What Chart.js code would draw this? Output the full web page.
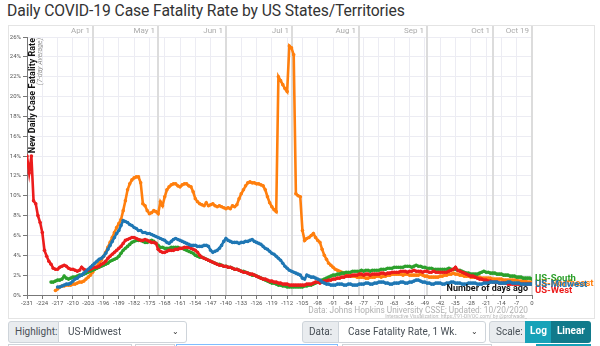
<!DOCTYPE html>
<html><head><meta charset="utf-8">
<script src="https://cdn.jsdelivr.net/npm/chart.js@4.4.0/dist/chart.umd.min.js"></script>
<style>
html,body{margin:0;padding:0;background:#fff;}
body{width:600px;height:346px;position:relative;overflow:hidden;font-family:Roboto,"Open Sans",sans-serif;}
#title{position:absolute;left:7px;top:1px;font-size:15.7px;color:#333;white-space:nowrap;letter-spacing:-0.1px;}
#frame{position:absolute;left:8px;top:25px;width:587px;height:294px;border:1px solid #e4e4e4;box-sizing:border-box;}
#c{position:absolute;left:0;top:0;}
#src1{position:absolute;right:72px;top:305px;font-size:8.3px;color:#b0b0b0;white-space:nowrap;}
#src2{position:absolute;right:73px;top:313px;font-size:5px;color:#b8b8b8;white-space:nowrap;}
.box{position:absolute;top:321px;height:22px;box-sizing:border-box;border:1px solid #ced4da;font-size:10px;line-height:20px;white-space:nowrap;}
.lab{background:#e9ecef;color:#495057;padding-left:6px;border-radius:3px 0 0 3px;}
.sel{background:#fff;color:#495057;padding-left:9px;border-radius:0 3px 3px 0;}
.chev{position:absolute;right:7px;top:0;font-size:8px;color:#333;}
.btn{color:#fff;font-weight:bold;text-align:center;border:none;}
.row2{position:absolute;top:344px;height:6px;box-sizing:border-box;border:1px solid #ced4da;}
</style></head>
<body>
<div id="title">Daily COVID-19 Case Fatality Rate by US States/Territories</div>
<div id="frame"></div>
<canvas id="c" width="600" height="320"></canvas>
<div id="src1">Data: Johns Hopkins University CSSE; Updated: 10/20/2020</div>
<div id="src2">Interactive Visualization: https://91-DIVOC.com/ by @profwade_</div>
<div class="box lab" style="left:8px;width:51px;">Highlight:</div>
<div class="box sel" style="left:58px;width:129px;">US-Midwest<span class="chev">&#8964;</span></div>
<div class="box lab" style="left:302px;width:37px;">Data:</div>
<div class="box sel" style="left:338px;width:148px;">Case Fatality Rate, 1 Wk.<span class="chev">&#8964;</span></div>
<div class="box lab" style="left:489px;width:37px;">Scale:</div>
<div class="box btn" style="left:525px;width:27px;background:#17a2b8;">Log</div>
<div class="box btn" style="left:551px;width:40px;background:#117a8b;border-radius:0 3px 3px 0;">Linear</div>
<div class="row2" style="left:8px;width:124px;"></div>
<div class="row2" style="left:135px;width:40px;"></div>
<div class="row2" style="left:176px;width:162px;border-color:#80bdff;"></div>
<div class="row2" style="left:342px;width:150px;"></div>
<div class="row2" style="left:536px;width:55px;background:#17a2b8;border:none;"></div>
<script>
// ---- data (days ago, x axis) ----
const monthLabels = ['Apr 1','May 1','Jun 1','Jul 1','Aug 1','Sep 1','Oct 1','Oct 19'];
const monthDays   = [-201, -171, -140, -110, -79, -48, -18, 0];
const yTickMax = 26;

const westName = 'US-West';
const westStart = -231;
const westValues = [
 14.0,12.3,14.0,9.5,9.2,8.0,7.3,6.3,4.5,3.9,
 3.4,3.1,2.7,2.6,2.6,2.8,2.9,3.0,2.9,2.7,
 2.6,2.6,2.5,2.4,2.5,2.8,2.6,2.5,2.5,2.6,
 2.7,2.8,2.8,2.9,3.1,3.2,3.4,3.7,3.9,4.1,
 4.3,4.5,4.7,4.9,5.2,5.5,5.6,5.7,5.8,5.8,
 5.7,5.6,5.5,5.5,5.6,5.5,5.4,5.3,5.3,5.2,
 4.6,4.4,4.3,4.3,4.4,4.5,4.5,4.5,4.6,4.6,
 4.7,4.7,4.8,4.8,4.8,4.7,4.6,4.5,4.3,4.0,
 3.8,3.7,3.6,3.5,3.4,3.3,3.2,3.1,3.0,3.0,
 2.9,2.9,2.8,2.8,2.7,2.6,2.6,2.5,2.4,2.3,
 2.3,2.2,2.1,2.1,2.0,1.9,1.8,1.7,1.6,1.6,
 1.5,1.4,1.4,1.3,1.3,1.2,1.2,1.1,1.1,1.1,
 1.0,1.0,1.0,1.0,1.0,1.0,1.0,1.0,1.1,1.1,
 1.1,1.2,1.3,1.3,1.2,1.3,1.4,1.4,1.5,1.5,
 1.6,1.6,1.7,1.7,1.8,1.8,1.9,1.9,1.9,2.0,
 2.0,2.0,2.1,2.1,2.0,2.1,2.1,2.0,2.1,2.1,
 2.1,2.1,2.2,2.2,2.1,2.2,2.2,2.3,2.3,2.3,
 2.3,2.4,2.4,2.4,2.3,2.4,2.4,2.5,2.4,2.4,
 2.4,2.3,2.4,2.4,2.3,2.3,2.4,2.3,2.3,2.3,
 2.3,2.3,2.3,2.4,2.5,2.6,2.8,2.5,2.4,2.3,
 2.2,2.1,2.0,1.9,1.9,1.8,1.7,1.6,1.6,1.5,
 1.5,1.4,1.4,1.3,1.3,1.3,1.2,1.2,1.2,1.2,
 1.1,1.1,1.1,1.1,1.1,1.1,1.1,1.1,1.1,1.1,
 1.1,1.1
];

const southName = 'US-South';
const southStart = -220;
const southValues = [
 1.3,1.3,1.4,1.5,1.5,1.6,1.9,1.7,1.6,1.7,
 1.8,1.8,1.9,2.0,2.0,2.1,2.2,2.3,2.4,2.5,
 2.6,2.7,2.8,2.9,3.0,3.1,3.2,3.4,3.5,3.6,
 3.7,3.9,4.2,4.5,4.7,4.9,5.1,5.3,5.4,5.5,
 5.5,5.5,5.4,5.3,5.3,5.4,5.5,5.4,5.2,5.0,
 4.8,4.8,4.7,4.7,4.7,4.8,4.8,4.8,4.8,4.7,
 4.7,4.6,4.5,4.4,4.3,4.2,4.0,3.9,3.8,3.8,
 3.7,3.6,3.5,3.4,3.3,3.2,3.1,3.1,3.0,2.9,
 2.9,2.8,2.8,2.7,2.6,2.6,2.5,2.4,2.4,2.3,
 2.2,2.1,2.0,2.0,1.9,1.8,1.7,1.6,1.5,1.4,
 1.3,1.2,1.2,1.1,1.0,1.0,0.9,0.9,0.8,0.8,
 0.8,0.8,0.8,0.8,0.8,0.8,0.9,0.9,1.0,1.0,
 1.1,1.2,1.3,1.4,1.5,1.6,1.7,1.8,1.9,2.0,
 2.0,2.1,2.1,2.2,2.2,2.3,2.3,2.3,2.4,2.4,
 2.4,2.4,2.5,2.4,2.5,2.5,2.4,2.5,2.5,2.5,
 2.5,2.6,2.6,2.6,2.7,2.7,2.7,2.8,2.8,2.8,
 2.8,2.8,2.9,2.9,2.9,2.8,2.9,3.0,2.9,2.9,
 2.8,2.8,2.7,2.7,2.7,2.6,2.6,2.6,2.6,2.6,
 2.6,2.6,2.7,2.6,2.6,2.6,2.5,2.5,2.4,2.3,
 2.2,2.2,2.1,2.1,2.1,2.1,2.2,2.3,2.4,2.3,
 2.3,2.2,2.2,2.2,2.1,2.1,2.1,2.0,2.0,2.0,
 1.9,1.9,1.9,1.8,1.8,1.8,1.7,1.7,1.7,1.7,
 1.6
];

const midwestName = 'US-Midwest';
const midwestStart = -217;
const midwestValues = [
 0.8,0.8,0.9,1.0,1.1,1.1,1.2,1.4,1.6,1.7,
 1.9,2.0,2.2,2.4,2.6,2.8,3.0,3.2,3.4,3.6,
 3.7,3.9,4.2,4.6,5.0,5.4,5.8,6.2,6.5,7.0,
 7.5,7.4,7.3,7.1,7.0,6.8,6.7,6.5,6.5,6.3,
 6.3,6.2,6.2,6.1,6.0,5.9,5.8,5.7,5.6,5.5,
 5.3,5.2,5.4,5.6,5.7,5.6,5.5,5.4,5.3,5.2,
 5.1,5.0,5.0,5.0,4.9,4.9,4.9,5.0,5.0,4.9,
 4.5,4.3,4.4,4.5,4.7,5.0,5.4,5.7,5.5,5.4,
 5.3,5.3,5.3,5.2,5.3,5.3,5.4,5.4,5.5,5.6,
 5.4,5.3,5.2,5.1,4.9,4.7,4.6,4.4,4.2,4.1,
 3.9,3.7,3.5,3.2,2.9,2.7,2.5,2.4,2.3,2.2,
 2.1,2.0,1.7,1.6,2.0,1.9,1.8,1.8,1.7,1.6,
 1.5,1.3,1.2,1.1,1.1,1.0,1.0,1.0,1.1,1.1,
 1.1,1.0,1.0,1.1,1.1,1.0,1.0,1.0,1.1,1.1,
 1.1,1.2,1.2,1.1,1.1,1.2,1.2,1.3,1.3,1.3,
 1.2,1.2,1.1,1.1,1.2,1.2,1.2,1.3,1.3,1.2,
 1.2,1.3,1.3,1.4,1.5,1.5,1.4,1.3,1.3,1.2,
 1.2,1.1,1.1,1.2,1.2,1.2,1.1,1.1,1.2,1.2,
 1.3,1.3,1.2,1.2,1.2,1.1,1.1,1.1,1.2,1.2,
 1.2,1.2,1.1,1.1,1.1,1.2,1.2,1.2,1.3,1.3,
 1.3,1.3,1.2,1.2,1.2,1.2,1.3,1.3,1.2,1.2,
 1.2,1.2,1.1,1.1,1.1,1.1,1.1,1.1
];

const northeastName = 'US-Northeast';
const northeastStart = -218;
const northeastValues = [
 0.45,0.6,0.8,0.9,0.9,1.0,1.0,1.0,1.1,1.1,
 1.2,1.3,1.3,1.4,1.6,1.8,2.0,2.3,2.6,2.9,
 3.2,3.5,3.9,4.3,4.8,5.3,5.8,6.3,6.8,7.2,
 7.6,8.5,9.5,10.6,11.2,11.6,11.8,11.9,11.9,11.3,
 9.2,9.0,8.5,8.2,8.3,8.5,8.4,8.2,9.4,9.0,
 9.9,10.6,10.9,11.1,11.2,11.2,11.0,10.9,11.1,11.2,
 11.2,11.0,10.9,10.4,9.7,9.4,9.2,9.1,9.0,9.3,
 9.0,9.1,9.2,9.0,8.9,9.0,8.9,8.8,8.7,8.8,
 8.7,9.0,8.9,9.1,9.7,10.2,10.6,11.0,11.3,11.4,
 11.3,11.3,11.2,11.2,11.1,11.0,10.6,9.9,9.3,8.9,
 8.6,8.4,22.0,21.6,21.2,20.8,20.5,25.1,24.9,24.2,
 10.2,10.0,9.9,6.5,5.5,5.7,5.8,6.0,6.2,5.8,
 5.5,5.3,4.6,4.0,3.6,3.2,3.0,2.8,2.6,2.5,
 2.4,2.3,2.2,2.1,2.0,2.0,1.9,1.9,1.8,1.8,
 1.8,1.8,1.7,1.7,1.8,1.8,1.8,1.9,1.9,1.8,
 1.9,1.9,2.0,2.0,2.1,2.1,2.1,2.1,2.1,2.0,
 2.1,2.1,2.0,2.0,2.0,2.0,2.0,2.1,2.0,1.9,
 1.9,1.8,1.8,1.8,1.8,1.8,1.9,1.9,2.0,2.0,
 2.1,2.1,2.2,2.1,2.1,2.0,2.0,1.9,1.9,1.9,
 1.8,1.8,1.8,1.8,1.8,1.7,1.7,1.7,1.7,1.7,
 1.6,1.6,1.6,1.6,1.6,1.5,1.5,1.5,1.5,1.5,
 1.5,1.5,1.4,1.4,1.4,1.4,1.3,1.3,1.3
];

// ---- build ----
function pts(start, vals){ return vals.map((v,i)=>({x:start+i, y:v})); }
const FONT = 'Roboto, "Open Sans", sans-serif';
function ds(name, start, vals, color, order){
  return {label:name, data:pts(start, vals), borderColor:color, backgroundColor:color,
    pointBackgroundColor:color, pointBorderColor:color, pointRadius:1.8, pointBorderWidth:0,
    borderWidth:2.6, tension:0, order:order};
}
const COLORS = {south:'#2ca02c', midwest:'#1f77b4', northeast:'#ff7f0e', west:'#ec1c1c'};

const overlay = {
  id:'overlay',
  beforeDatasetsDraw(chart){
    const {ctx, chartArea:a, scales:{x}} = chart;
    ctx.save();
    monthDays.forEach((d,i)=>{
      const px = Math.round(x.getPixelForValue(d));
      ctx.strokeStyle = '#dcdcdc'; ctx.lineWidth = 2;
      ctx.beginPath(); ctx.moveTo(px, 26); ctx.lineTo(px, a.bottom); ctx.stroke();
      ctx.fillStyle = '#ababab'; ctx.font = '8px ' + FONT;
      ctx.textAlign = 'right'; ctx.textBaseline = 'middle';
      ctx.fillText(monthLabels[i], px - 3, 31);
    });
    ctx.font = 'bold 9px ' + FONT;
    const t = 'Number of days ago';
    const w = ctx.measureText(t).width;
    ctx.fillStyle = 'rgba(255,255,255,0.9)';
    ctx.fillRect(a.right - 4 - w - 2, a.bottom - 12, w + 4, 11);
    ctx.restore();
  },
  afterDatasetsDraw(chart){
    const {ctx, chartArea:a, scales:{x, y}} = chart;
    ctx.save();
    ctx.translate(a.left + 6, a.top + 1);
    ctx.rotate(-Math.PI/2);
    ctx.textAlign = 'right'; ctx.textBaseline = 'middle';
    ctx.fillStyle = '#111'; ctx.font = 'bold 9px ' + FONT;
    ctx.fillText('New Daily Case Fatality Rate', 0, 0);
    ctx.fillStyle = '#999'; ctx.font = 'italic 7px ' + FONT;
    ctx.fillText('(7-day Average)', 0, 7.5);
    ctx.restore();
    ctx.save();
    ctx.font = 'bold 9px ' + FONT; ctx.fillStyle = '#111';
    ctx.textAlign = 'right'; ctx.textBaseline = 'middle';
    ctx.fillText('Number of days ago', a.right - 4, a.bottom - 6.5);
    const order = [3,2,1,0];
    const dy = {'US-South':0,'US-Northeast':2,'US-Midwest':1,'US-West':7};
    order.forEach(oi=>{
      chart.data.datasets.forEach(d=>{
        if (d.order !== oi) return;
        const last = d.data[d.data.length-1];
        const py = y.getPixelForValue(last.y) + dy[d.label];
        ctx.font = 'bold 9.5px ' + FONT; ctx.fillStyle = d.borderColor;
        ctx.textAlign = 'left'; ctx.textBaseline = 'middle';
        ctx.fillText(d.label, a.right + 3, py);
      });
    });
    ctx.restore();
  }
};

new Chart(document.getElementById('c'), {
  type:'line',
  data:{datasets:[
    ds(midwestName, midwestStart, midwestValues, COLORS.midwest, 0),
    ds(westName, westStart, westValues, COLORS.west, 1),
    ds(southName, southStart, southValues, COLORS.south, 2),
    ds(northeastName, northeastStart, northeastValues, COLORS.northeast, 3)
  ]},
  options:{
    responsive:false, animation:false, devicePixelRatio:1,
    layout:{padding:{top:37, right:68, left:0, bottom:0}},
    plugins:{legend:{display:false}, tooltip:{enabled:false}},
    scales:{
      x:{type:'linear', min:-231, max:0,
        ticks:{stepSize:7, color:'#555', font:{size:6, family:FONT}, maxRotation:0, autoSkip:false, padding:1},
        grid:{color:'#ececf3', tickColor:'#777', tickLength:4, lineWidth:1},
        border:{color:'#777', width:1},
        afterFit(s){ s.height = 25; }
      },
      y:{min:0, max:yTickMax,
        ticks:{stepSize:2, color:'#555', font:{size:6, family:FONT}, padding:2, callback:v=>v+'%'},
        grid:{color:'#ececf3', tickColor:'#777', tickLength:4, lineWidth:1},
        border:{color:'#777', width:1},
        afterFit(s){ s.width = 27; }
      }
    }
  },
  plugins:[overlay]
});
</script>
</body></html>
